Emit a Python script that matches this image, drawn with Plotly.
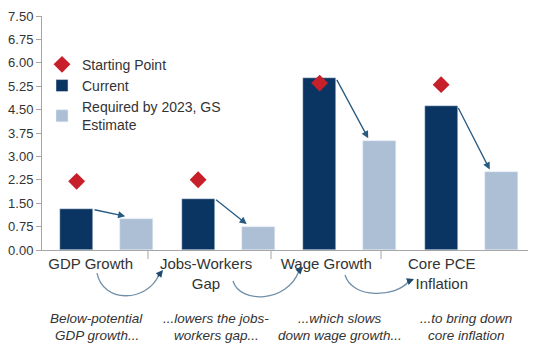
import plotly.graph_objects as go

# ---- data ----
categories = ["GDP Growth", "Jobs-Workers<br>Gap", "Wage Growth", "Core PCE<br>Inflation"]
starting_point = [2.2, 2.25, 5.35, 5.3]
current = [1.3, 1.65, 5.5, 4.6]
required = [1.0, 0.75, 3.5, 2.5]
captions = [["Below-potential", "GDP growth..."],
            ["...lowers the jobs-", "workers gap..."],
            ["...which slows", "down wage growth..."],
            ["...to bring down", "core inflation"]]
y_ticks = [0.0, 0.75, 1.5, 2.25, 3.0, 3.75, 4.5, 5.25, 6.0, 6.75, 7.5]

# ---- style ----
NAVY = "#0a3461"
LIGHT = "#adbfd5"
RED = "#c8202a"
ARROW = "#285a80"
CURVE = "#6f8ea8"
TXT = "#333333"
FONT = "Liberation Sans, Arial, sans-serif"

# page has an 8px body margin; size the figure so the plot lands where the reference has it
PAGE_OFF = 8
W, H = 541 - PAGE_OFF, 363 - PAGE_OFF
PL, PR, PT, PB = 42, 528, 16, 250          # plot area in page pixels
ML, MT = PL - PAGE_OFF, PT - PAGE_OFF
MR, MB = W - (PR - PAGE_OFF), H - (PB - PAGE_OFF)
PW, PH = PR - PL, PB - PT

idx = list(range(len(categories)))
BW = 0.27
OFF_CUR = -0.35
OFF_REQ = 0.145
cur_center = [i + OFF_CUR + BW / 2 for i in idx]
label_shift = [-0.10, -0.15, -0.16, -0.21]
cap_x = [-0.05, 0.936, 1.95, 2.99]

fig = go.Figure()
fig.add_trace(go.Scatter(x=cur_center, y=starting_point, mode="markers", name="Starting Point",
                         marker=dict(symbol="diamond", size=13, color=RED), legendgroup="a"))
fig.add_trace(go.Bar(x=idx, y=current, name="Current", marker_color=NAVY,
                     width=BW, offset=OFF_CUR, legendgroup="b"))
fig.add_trace(go.Bar(x=idx, y=required, name="Required by 2023, GS<br>Estimate",
                     marker_color=LIGHT, width=BW, offset=OFF_REQ, legendgroup="c"))

annotations = []
# straight arrows from current to required
for i in idx:
    annotations.append(dict(x=i + OFF_REQ + 0.04, y=required[i] + 0.08, xref="x", yref="y",
                            ax=i + OFF_CUR + BW, ay=current[i], axref="x", ayref="y",
                            text="", showarrow=True, arrowhead=2, arrowsize=1.1,
                            arrowwidth=1.3, arrowcolor=ARROW, standoff=0))


def px2p(px, py):
    return (px - PL) / PW, (PB - py) / PH


# captions (one annotation per line for tight line spacing)
cap_lines_y = [px2p(0, 318.7)[1], px2p(0, 335)[1]]
for cx, lines in zip(cap_x, captions):
    for ly, line in zip(cap_lines_y, lines):
        annotations.append(dict(x=cx, y=ly, xref="x", yref="paper", text="<i>" + line + "</i>",
                                showarrow=False, yanchor="middle", xanchor="center",
                                font=dict(family=FONT, size=13.5, color=TXT)))

# curved arrows under the labels
curves = [
    [(97, 273), (103, 303), (146, 303), (159, 275)],
    [(233, 281), (240, 304), (287, 303), (299, 271)],
    [(345, 275), (352, 299), (396, 298), (409, 281)],
]
tips = [(163, 270), (303, 267), (414, 279)]
shapes = []
for pts, tip in zip(curves, tips):
    p = [px2p(*q) for q in pts]
    path = "M {:.4f},{:.4f} C {:.4f},{:.4f} {:.4f},{:.4f} {:.4f},{:.4f}".format(
        p[0][0], p[0][1], p[1][0], p[1][1], p[2][0], p[2][1], p[3][0], p[3][1])
    shapes.append(dict(type="path", path=path, xref="paper", yref="paper",
                       line=dict(color=CURVE, width=1.3)))
    tx, ty = px2p(*tip)
    dx = tip[0] - pts[3][0]
    dy = tip[1] - pts[3][1]
    annotations.append(dict(x=tx, y=ty, xref="paper", yref="paper", ax=-dx * 1.6, ay=-dy * 1.6,
                            text="", showarrow=True, arrowhead=2, arrowsize=1.1,
                            arrowwidth=1.3, arrowcolor="#1f4a70", standoff=0))

# divider ticks on the category axis
for dx in [0.372, 1.385, 2.29]:
    shapes.append(dict(type="line", xref="x", yref="paper", x0=dx, x1=dx, y0=0, y1=-9 / PH,
                       line=dict(color="#a6a6a6", width=1)))

fig.update_layout(
    width=W, height=H, margin=dict(l=ML, r=MR, t=MT, b=MB, autoexpand=False),
    paper_bgcolor="white", plot_bgcolor="white",
    font=dict(family=FONT, size=13, color=TXT),
    showlegend=True,
    legend=dict(x=0.0, y=0.86, xanchor="left", yanchor="top", traceorder="grouped",
                tracegroupgap=0, font=dict(family=FONT, size=14, color=TXT),
                bgcolor="rgba(0,0,0,0)"),
    annotations=annotations, shapes=shapes,
    bargap=0,
)
fig.update_xaxes(range=[-0.5, 3.5], tickmode="array",
                 tickvals=[i + s for i, s in zip(idx, label_shift)],
                 ticktext=categories, ticks="", showline=True, linecolor="#a6a6a6",
                 linewidth=1, showgrid=False, zeroline=False, ticklabelstandoff=0,
                 tickfont=dict(family=FONT, size=15, color=TXT))
fig.update_yaxes(range=[0, 7.5], tickmode="array", tickvals=y_ticks,
                 ticktext=["{:.2f}".format(v) for v in y_ticks], ticks="outside", ticklen=5,
                 tickcolor="#a6a6a6", showline=True, linecolor="#a6a6a6", linewidth=1,
                 showgrid=False, zeroline=False,
                 tickfont=dict(family=FONT, size=13, color=TXT))

fig.write_html("out.html")
